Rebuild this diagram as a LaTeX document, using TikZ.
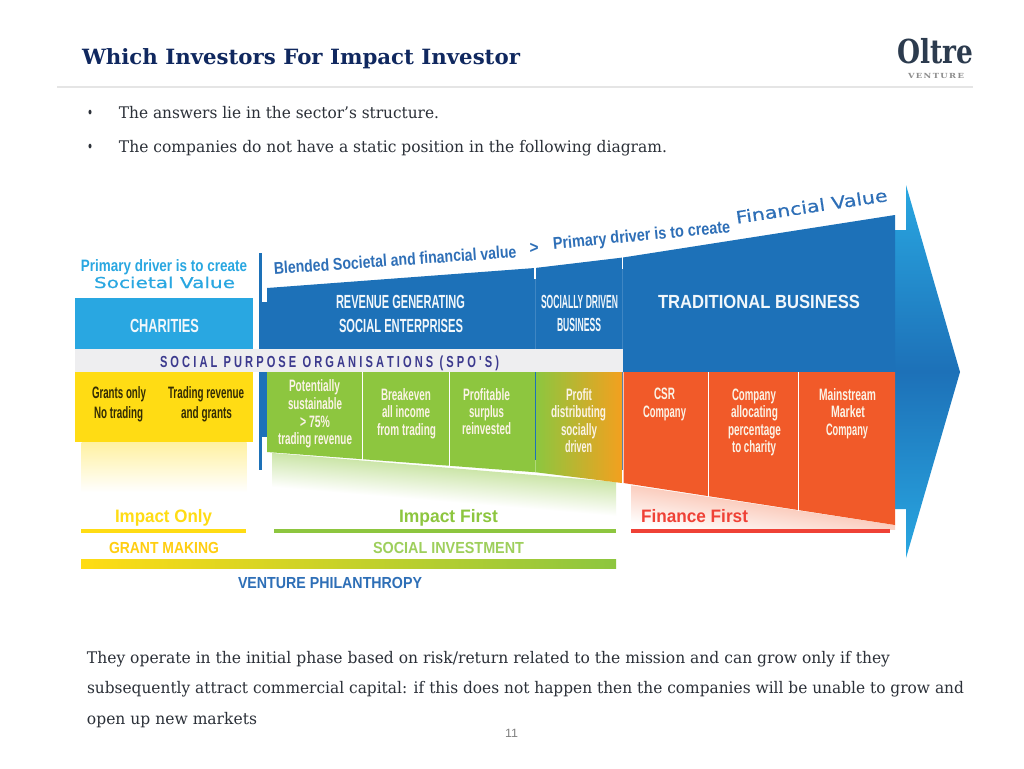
\documentclass[tikz,border=0pt]{standalone}
\usepackage{graphicx}
\usepackage{fontspec}
\setmainfont{DejaVu Serif}
\newfontfamily\cond{Liberation Sans}
\newfontfamily\wide[FakeBold=0.4]{DejaVu Sans}
\definecolor{navy}{HTML}{10285F}
\definecolor{bodytxt}{HTML}{2B3038}
\definecolor{skyb}{HTML}{29A7E1}
\definecolor{deepb}{HTML}{1D71B8}
\definecolor{txtb}{HTML}{2E6FB7}
\definecolor{band}{HTML}{EEEEF0}
\definecolor{spo}{HTML}{3C3A8E}
\definecolor{yel}{HTML}{FFDC14}
\definecolor{grn}{HTML}{8DC63F}
\definecolor{org}{HTML}{F15A29}
\definecolor{amb}{HTML}{F3A01F}
\definecolor{redl}{HTML}{EF4136}
\definecolor{logo}{HTML}{2C3B4E}
\definecolor{softw}{HTML}{FBF3E6}
\newcommand{\T}[6]{\node[lbl,#5] (#1) at (#2,-#3) {\resizebox{#4pt}{\height}{#6}};}
\tikzset{
  lbl/.style={inner sep=0pt,outer sep=0pt,anchor=center,text height=15pt,text depth=2pt},
  serifbody/.style={font=\fontsize{16}{16}\selectfont,text=bodytxt},
  cell/.style={font=\cond\bfseries\fontsize{16.5}{17}\selectfont,text=softw},
  cellk/.style={font=\cond\bfseries\fontsize{16.5}{17}\selectfont,text=black!80!yel},
  heading/.style={font=\cond\bfseries\fontsize{19}{19}\selectfont,text=white!94!deepb},
  drv/.style={font=\cond\bfseries\fontsize{17}{17}\selectfont,text=txtb},
  wid/.style={font=\wide\fontsize{17}{17}\selectfont,text=txtb},
  invlbl/.style={font=\cond\bfseries\fontsize{18}{18}\selectfont},
  divl/.style={white,line width=1pt},
}
\begin{document}
\begin{tikzpicture}[x=1pt,y=1pt]
\useasboundingbox (0,0) rectangle (1024,-768);
\fill[white] (0,0) rectangle (1024,-768);
% header
\T{title}{301}{58}{438}{font=\bfseries\fontsize{21}{21}\selectfont,text=navy}{Which Investors For Impact Investor}
\fill[black!10] (57,-85.5) rectangle (973,-87.5);
\T{logoa}{935}{57}{76}{font=\bfseries\fontsize{33}{33}\selectfont,text=logo}{Oltre}
\T{logob}{936}{72}{56}{font=\bfseries\fontsize{7}{7}\selectfont,text=black!45}{V\,E\,N\,T\,U\,R\,E}
\T{ba}{90}{112}{6}{serifbody}{•}
\T{bb}{90}{146}{6}{serifbody}{•}
\T{la}{279}{112}{320}{serifbody}{The answers lie in the sector's structure.}
\T{lb}{393}{146}{548}{serifbody}{The companies do not have a static position in the following diagram.}
% big arrow
\shade[top color=skyb,bottom color=skyb,middle color=deepb]
  (895,-230) -- (906,-230) -- (906,-185) -- (960,-372) -- (906,-558) -- (906,-509) -- (895,-509) -- cycle;
% fades
\shade[top color=yel!40,bottom color=white] (81.5,-442) rectangle (246.5,-492);
\shade[transform canvas={yslant=-0.0843},top color=grn!45,bottom color=white]
  (272,-430) rectangle (616,-464);
\begin{scope}
\clip (631,-470) rectangle (895,-529);
\shade[transform canvas={yslant=-0.151},top color=org!30,bottom color=white]
  (631,-390) rectangle (895,-428);
\end{scope}
% blue panels
\fill[deepb] (259,-302) rectangle (267,-349);
\fill[deepb] (267,-288) -- (535,-268) -- (623,-257.5) -- (895,-215) -- (895,-372) -- (623,-372) -- (623,-349) -- (267,-349) -- cycle;
\fill[deepb] (259,-372) rectangle (267,-437);
\fill[deepb] (259,-253) rectangle (261.5,-470);
\draw[white,line width=1.2pt] (535,-267) -- (535,-279);
\draw[white,line width=1.2pt] (622.5,-256) -- (622.5,-269);
\draw[deepb!85!white,line width=1pt] (535,-279) -- (535,-349);
\draw[deepb!85!white,line width=1pt] (622.5,-269) -- (622.5,-349);
% charities and bands
\fill[skyb] (75,-298) rectangle (253,-349);
\fill[band] (75,-349) rectangle (622.5,-372);
\fill[yel] (75,-372) rectangle (253,-441.5);
% green
\fill[grn] (267,-372) -- (536,-372) -- (536,-472.3) -- (267,-452) -- cycle;
\shade[left color=grn,right color=amb] (536,-372) -- (622,-372) -- (622,-483) -- (536,-472.3) -- cycle;
\draw[divl] (362.5,-372) -- (362.5,-460);
\draw[divl] (449,-372) -- (449,-466.5);
\draw[deepb,line width=1pt] (535.5,-372) -- (535.5,-460);
\draw[grn!70!white,line width=1pt] (535.5,-460) -- (535.5,-472);
\draw[deepb!70!black!70,line width=1.5pt] (622.5,-372) -- (622.5,-470);
\draw[white,line width=1.5pt] (622.5,-470) -- (622.5,-484);
% orange
\fill[org] (623.5,-372) -- (895,-372) -- (895,-525) -- (623.5,-483) -- cycle;
\draw[divl] (708,-372) -- (708,-496.5);
\draw[divl] (798.5,-372) -- (798.5,-510.5);
% rules
\fill[yel] (81,-529) rectangle (246,-532.5);
\fill[grn] (273.5,-529) rectangle (616,-532.5);
\fill[redl] (631,-529) rectangle (890,-532.5);
\shade[left color=yel,right color=grn] (81,-559) rectangle (616,-568.5);
% top labels
\T{pda}{164}{265}{166}{font=\cond\bfseries\fontsize{16.5}{17}\selectfont,text=skyb}{Primary driver is to create}
\T{pdb}{164.5}{281.5}{141}{font=\wide\fontsize{15}{16}\selectfont,text=skyb}{Societal Value}
\node[lbl,drv,rotate=4] (blend) at (395,-259.5) {\resizebox{243pt}{\height}{Blended Societal and financial value}};
\node[lbl,drv,rotate=0] (gt) at (534,-247) {\resizebox{9pt}{\height}{>}};
\node[lbl,drv,rotate=5.5] (prim) at (641.5,-234.5) {\resizebox{178pt}{\height}{Primary driver is to create}};
\node[lbl,wid,rotate=8.5] (fin) at (811.5,-206) {\resizebox{153pt}{\height}{Financial Value}};
% head labels
\T{char}{164.5}{326}{69}{heading}{CHARITIES}
\T{rga}{400.5}{302}{129}{heading}{REVENUE GENERATING}
\T{rgb}{401}{326}{124}{heading}{SOCIAL ENTERPRISES}
\T{sda}{579.5}{302}{77}{heading}{SOCIALLY DRIVEN}
\T{sdb}{579}{325}{44}{heading}{BUSINESS}
\T{trad}{759}{302}{202}{font=\cond\bfseries\fontsize{19}{19}\selectfont,text=white!94!deepb}{TRADITIONAL BUSINESS}
\T{spos}{329.5}{361}{339}{font=\cond\bfseries\fontsize{16}{16}\selectfont,text=spo}{S O C I A L \ P U R P O S E \ O R G A N I S A T I O N S \ ( S P O ' S )}
% yellow cells
\T{ya}{119}{392}{54}{cellk}{Grants only}
\T{yb}{118.5}{412}{49}{cellk}{No trading}
\T{yc}{206}{392}{76}{cellk}{Trading revenue}
\T{yd}{206.5}{412}{51}{cellk}{and grants}
% green cells
\T{ga}{314.5}{385}{51}{cell}{Potentially}
\T{gb}{315}{403}{54}{cell}{sustainable}
\T{gc}{315}{421}{30}{cell}{> 75\%}
\T{gd}{315}{438}{74}{cell}{trading revenue}
\T{ge}{406}{394}{50}{cell}{Breakeven}
\T{gf}{406}{411}{48}{cell}{all income}
\T{gg}{406.5}{429}{59}{cell}{from trading}
\T{gh}{486.5}{394}{47}{cell}{Profitable}
\T{gi}{486.5}{411}{35}{cell}{surplus}
\T{gj}{486.5}{428}{49}{cell}{reinvested}
\T{pa}{579}{394}{26}{cell}{Profit}
\T{pb}{578.5}{411}{55}{cell}{distributing}
\T{pc}{579}{429}{36}{cell}{socially}
\T{pd}{578.5}{446}{27}{cell}{driven}
% orange cells
\T{oa}{664.5}{393}{21}{cell}{CSR}
\T{ob}{664.5}{411}{43}{cell}{Company}
\T{oc}{754}{394}{44}{cell}{Company}
\T{od}{754.5}{411}{47}{cell}{allocating}
\T{oe}{754.5}{429}{53}{cell}{percentage}
\T{of}{754}{446}{44}{cell}{to charity}
\T{og}{847.5}{394}{57}{cell}{Mainstream}
\T{oh}{848}{411}{34}{cell}{Market}
\T{oi}{847}{429}{42}{cell}{Company}
% investor labels
\T{io}{163.5}{516}{97}{invlbl,text=yel}{Impact Only}
\T{if}{448.5}{516}{99}{invlbl,text=grn}{Impact First}
\T{ff}{694.5}{516}{107}{invlbl,text=redl}{Finance First}
\T{gm}{164}{547}{110}{font=\cond\bfseries\fontsize{16}{16}\selectfont,text=yel!85!orange}{GRANT MAKING}
\T{si}{448.5}{547}{151}{font=\cond\bfseries\fontsize{16}{16}\selectfont,text=grn!85!white}{SOCIAL INVESTMENT}
\T{vp}{330}{582}{184}{font=\cond\bfseries\fontsize{16}{16}\selectfont,text=txtb}{VENTURE PHILANTHROPY}
% paragraph
\T{pl}{488.5}{657}{803}{serifbody}{They operate in the initial phase based on risk/return related to the mission and can grow only if they}
\T{pm}{525.5}{687}{877}{serifbody}{subsequently attract commercial capital: if this does not happen then the companies will be unable to grow and}
\T{pn}{172}{718}{170}{serifbody}{open up new markets}
\T{num}{511.5}{731}{13}{font=\cond\fontsize{12}{12}\selectfont,text=black!50}{11}
\end{tikzpicture}
\end{document}
